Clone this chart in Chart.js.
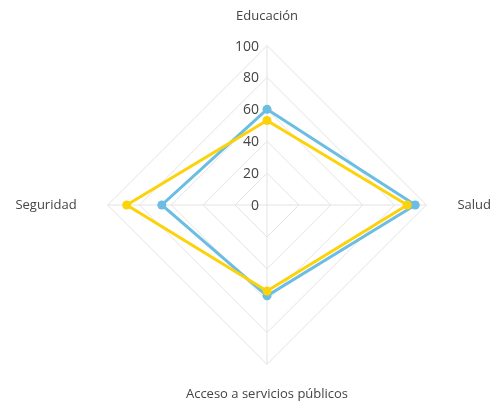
<!DOCTYPE html>
<html>
<head>
<meta charset="utf-8">
<script src="https://cdn.jsdelivr.net/npm/chart.js@4/dist/chart.umd.min.js"></script>
<style>
  html, body { margin: 0; padding: 0; background: #fff; }
  #wrap { width: 499px; height: 408px; }
</style>
</head>
<body>
<div id="wrap"><canvas id="myChart"></canvas></div>
<script>
const ctx = document.getElementById('myChart');

var categories = ['Educación', 'Salud', 'Acceso a servicios públicos', 'Seguridad'];
var blueValues = [60, 93, 57, 66];
var yellowValues = [53, 88, 54, 88];
var tickValues = [0, 20, 40, 60, 80, 100];

// tick labels drawn left of the vertical axis, like the original
const leftTicks = {
    id: 'leftTicks',
    afterDatasetsDraw(chart) {
        const scale = chart.scales.r;
        const c = chart.ctx;
        c.save();
        c.font = '14px "Open Sans"';
        c.fillStyle = '#444';
        c.textAlign = 'right';
        c.textBaseline = 'middle';
        for (let i = 0; i < tickValues.length; i++) {
            var d = scale.getDistanceFromCenterForValue(tickValues[i]);
            c.fillText(String(tickValues[i]), scale.xCenter - 8, scale.yCenter - d + 1);
        }
        c.restore();
    }
};

function createGraph() {
    new Chart(ctx, {
        type: 'radar',
        data: {
            labels: categories,
            datasets: [
                {
                    label: 'amarillo',
                    data: yellowValues,
                    borderColor: '#fcd20a',
                    backgroundColor: '#fcd20a',
                    pointBackgroundColor: '#fcd20a',
                    borderWidth: 3,
                    pointRadius: 4.5,
                    pointBorderWidth: 0,
                    fill: false
                },
                {
                    label: 'azul',
                    data: blueValues,
                    borderColor: '#6cbde2',
                    backgroundColor: '#6cbde2',
                    pointBackgroundColor: '#6cbde2',
                    borderWidth: 3,
                    pointRadius: 4.5,
                    pointBorderWidth: 0,
                    fill: false
                }
            ]
        },
        options: {
            responsive: true,
            maintainAspectRatio: false,
            animation: false,
            layout: { padding: { top: 9, bottom: 5, left: 0, right: 0 } },
            plugins: {
                legend: { display: false },
                tooltip: { enabled: false }
            },
            elements: { line: { tension: 0 } },
            scales: {
                r: {
                    min: 0,
                    max: 100,
                    // let the side labels spill sideways, only height limits the radius;
                    // centre sits a bit right of the middle like the original
                    afterSetDimensions: function(scale) {
                        var mid = Math.floor((scale.left + scale.right) / 2);
                        scale.left = scale.left - 100;
                        scale.right = scale.right + 100;
                        scale.xCenter = mid + 18;
                    },
                    ticks: { stepSize: 20, display: false },
                    grid: { color: '#e3e3e3', lineWidth: 1 },
                    angleLines: { color: '#e3e3e3', lineWidth: 1 },
                    pointLabels: {
                        // side labels sit further out than top/bottom ones
                        padding: function(c) { return c.index % 2 ? 31 : 22; },
                        color: '#444',
                        font: { family: 'Open Sans', size: 13 }
                    }
                }
            }
        },
        plugins: [leftTicks]
    });
}

createGraph();
</script>
</body>
</html>
